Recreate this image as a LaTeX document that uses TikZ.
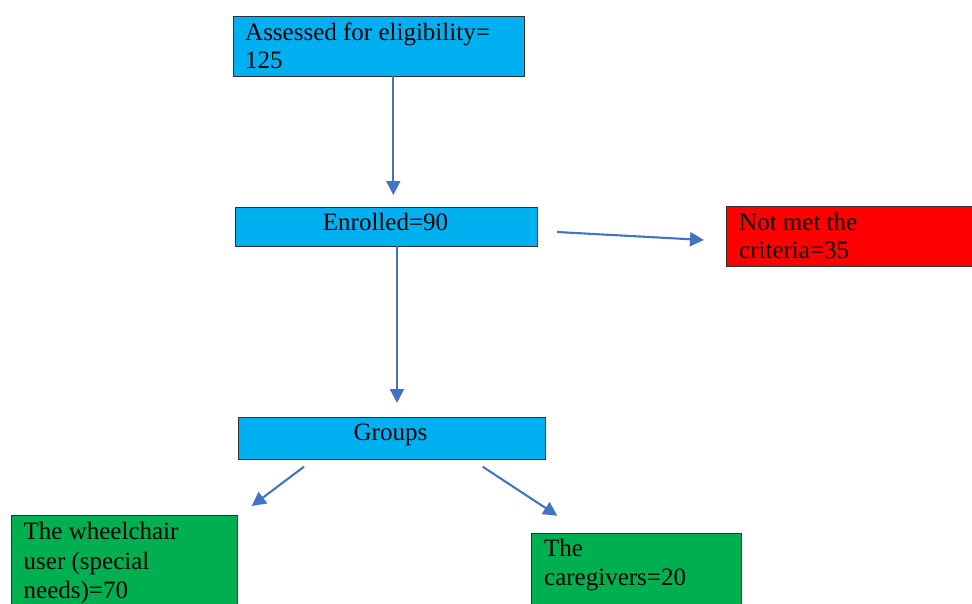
\documentclass[tikz,border=0pt]{standalone}
\usepackage{fontspec}
\setmainfont{Liberation Serif}
\usetikzlibrary{arrows.meta}
\definecolor{boxblue}{HTML}{00B0F0}
\definecolor{boxred}{HTML}{FF0000}
\definecolor{boxgreen}{HTML}{00B050}
\definecolor{boxedge}{HTML}{303030}
\definecolor{arrowblue}{HTML}{4472C4}
\begin{document}
\begin{tikzpicture}[x=1pt,y=-1pt,
  box/.style={draw=boxedge, line width=1.1pt, inner sep=0pt, anchor=north west},
  txt/.style={font=\fontsize{25}{28}\selectfont, inner sep=0pt, anchor=base west},
  ctxt/.style={font=\fontsize{25}{28}\selectfont, inner sep=0pt, anchor=base},
  arr/.style={draw=arrowblue, line width=2.1pt, -{Triangle[length=14pt,width=14pt]}}]
\useasboundingbox (0,0) rectangle (972,603);
\clip (0,0) rectangle (972,603);
% boxes
\node[box, fill=boxblue, minimum width=291pt, minimum height=60pt] (assess) at (233,16) {};
\node[box, fill=boxblue, minimum width=302pt, minimum height=39pt] (enrol) at (235,207) {};
\node[box, fill=boxred, minimum width=250pt, minimum height=60pt] (notmet) at (726,206) {};
\node[box, fill=boxblue, minimum width=307pt, minimum height=42pt] (groups) at (238,417) {};
\node[box, fill=boxgreen, minimum width=226pt, minimum height=100pt] (wheel) at (11,515) {};
\node[box, fill=boxgreen, minimum width=210pt, minimum height=90pt] (care) at (531,533) {};
% texts
\node[txt] (assessA) at (245,40) {Assessed for eligibility=};
\node[txt] (assessB) at (245,68.3) {125};
\node[ctxt] (enrolT) at (385.5,230.7) {Enrolled=90};
\node[txt] (notmetA) at (739,230) {Not met the};
\node[txt] (notmetB) at (739,258.3) {criteria=35};
\node[ctxt] (groupsT) at (390.5,440.7) {Groups};
\node[txt] (wheelA) at (23.5,539.5) {The wheelchair};
\node[txt] (wheelB) at (23.5,569) {user (special};
\node[txt] (wheelC) at (23.5,598.3) {needs)=70};
\node[txt] (careA) at (544,556.7) {The};
\node[txt] (careB) at (544,585) {caregivers=20};
% arrow end points
\coordinate (a1s) at (393.3,76);
\coordinate (a1e) at (393.3,195);
\coordinate (a2s) at (397,246);
\coordinate (a2e) at (397,403);
\coordinate (a3s) at (557,232);
\coordinate (a3e) at (704,240);
\coordinate (a4s) at (304,466.7);
\coordinate (a4e) at (251.7,506);
\coordinate (a5s) at (482.7,466.7);
\coordinate (a5e) at (557.3,515.7);
\draw[arr] (a1s) -- (a1e);
\draw[arr] (a2s) -- (a2e);
\draw[arr] (a3s) -- (a3e);
\draw[arr] (a4s) -- (a4e);
\draw[arr] (a5s) -- (a5e);
\end{tikzpicture}
\end{document}
